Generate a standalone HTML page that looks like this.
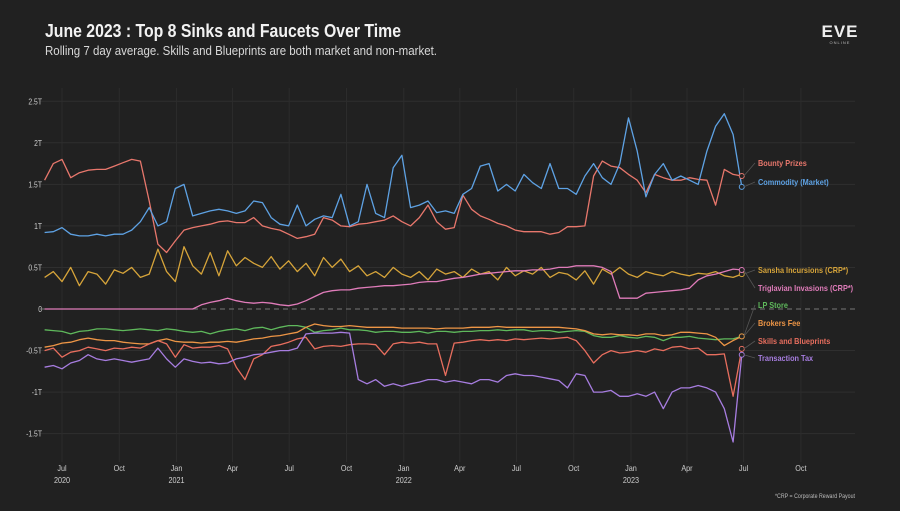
<!DOCTYPE html>
<html><head><meta charset="utf-8"><style>
html,body{margin:0;padding:0;background:#212121;}
body{width:900px;height:506px;overflow:hidden;font-family:"Liberation Sans Narrow","Liberation Sans",sans-serif;color:#eee;}
.t{font-family:"Liberation Sans Narrow","Liberation Sans",sans-serif;}
</style></head><body>
<svg id="chart" width="900" height="506" xmlns="http://www.w3.org/2000/svg">
<rect width="900" height="506" fill="#212121"/>
<text x="45" y="37" fill="#f2f2f2" font-size="18" font-weight="bold" class="t" textLength="356" lengthAdjust="spacingAndGlyphs">June 2023 : Top 8 Sinks and Faucets Over Time</text>
<text x="45" y="55" fill="#d8d8d8" font-size="12.5" class="t" textLength="392" lengthAdjust="spacingAndGlyphs">Rolling 7 day average. Skills and Blueprints are both market and non-market.</text>
<g>
<text x="840" y="37" fill="#eee" font-size="17" font-weight="bold" text-anchor="middle" class="t" letter-spacing="1">EVE</text>
<text x="840" y="44" fill="#bbb" font-size="4" text-anchor="middle" class="t" letter-spacing="1">ONLINE</text>
</g>
<g id="grid"></g><g id="series"></g><g id="legend"></g>
<text x="855" y="498" fill="#bbb" font-size="6" text-anchor="end" class="t" textLength="80" lengthAdjust="spacingAndGlyphs">*CRP = Corporate Reward Payout</text>
</svg>
<script>
// day offsets from 2020-07-01, step 14 days
const days = Array.from({length:81},(_,i)=>-28+14*i);
const yTicks = [2.5,2,1.5,1,0.5,0,-0.5,-1,-1.5];
const yTickLabels = ["2.5T","2T","1.5T","1T","0.5T","0","-0.5T","-1T","-1.5T"];
const xTickDays = [0,92,184,274,365,457,549,639,730,822,914,1004,1095,1187];
const xTickLabels = ["Jul","Oct","Jan","Apr","Jul","Oct","Jan","Apr","Jul","Oct","Jan","Apr","Jul","Oct"];
const xTickYears = ["2020","","2021","","","","2022","","","","2023","","",""];
const bounty = [1.55,1.75,1.8,1.58,1.64,1.67,1.68,1.68,1.72,1.76,1.8,1.78,1.3,0.78,0.68,0.82,0.95,0.98,1.0,1.02,1.05,1.06,1.04,1.04,1.1,1.0,0.97,0.95,0.9,0.85,0.87,0.9,1.1,1.07,1.0,0.99,1.02,1.03,1.05,1.07,1.12,1.05,1.0,1.1,1.25,1.05,0.96,0.98,1.37,1.2,1.12,1.08,1.03,1.0,0.95,0.93,0.93,0.93,0.9,0.92,0.99,0.99,1.0,1.6,1.78,1.72,1.7,1.62,1.55,1.4,1.62,1.58,1.55,1.55,1.58,1.56,1.55,1.25,1.68,1.62,1.6];
const commodity = [0.92,0.93,0.98,0.9,0.88,0.88,0.9,0.88,0.9,0.9,0.95,1.05,1.22,1.0,1.05,1.45,1.5,1.12,1.15,1.18,1.2,1.18,1.15,1.18,1.3,1.28,1.1,1.02,1.0,1.25,1.0,1.08,1.12,1.1,1.38,1.0,1.05,1.5,1.15,1.1,1.7,1.85,1.22,1.25,1.3,1.16,1.18,1.15,1.38,1.45,1.72,1.75,1.42,1.5,1.42,1.62,1.52,1.45,1.75,1.45,1.45,1.38,1.6,1.75,1.58,1.5,1.75,2.3,1.9,1.35,1.62,1.75,1.55,1.6,1.55,1.5,1.9,2.2,2.35,2.1,1.47];
const sansha = [0.38,0.45,0.33,0.5,0.28,0.45,0.42,0.3,0.47,0.43,0.5,0.38,0.42,0.72,0.45,0.33,0.75,0.52,0.42,0.68,0.4,0.7,0.52,0.62,0.55,0.5,0.63,0.48,0.58,0.45,0.55,0.4,0.62,0.5,0.6,0.45,0.52,0.4,0.45,0.38,0.5,0.42,0.38,0.45,0.35,0.48,0.42,0.45,0.38,0.48,0.42,0.45,0.35,0.5,0.4,0.46,0.42,0.5,0.38,0.44,0.42,0.35,0.46,0.3,0.48,0.42,0.5,0.42,0.38,0.45,0.42,0.4,0.45,0.42,0.4,0.43,0.42,0.45,0.4,0.38,0.42];
const triglavian = [0,0,0,0,0,0,0,0,0,0,0,0,0,0,0,0,0,0,0.05,0.08,0.1,0.13,0.1,0.08,0.07,0.08,0.07,0.05,0.04,0.06,0.1,0.15,0.2,0.22,0.23,0.23,0.25,0.26,0.27,0.28,0.28,0.29,0.3,0.32,0.33,0.33,0.35,0.37,0.38,0.4,0.42,0.43,0.44,0.45,0.46,0.46,0.47,0.47,0.48,0.5,0.5,0.52,0.52,0.52,0.5,0.45,0.13,0.13,0.13,0.19,0.2,0.21,0.22,0.23,0.25,0.35,0.4,0.42,0.45,0.48,0.47];
const lpStore = [-0.25,-0.26,-0.27,-0.3,-0.27,-0.26,-0.24,-0.24,-0.25,-0.26,-0.25,-0.24,-0.25,-0.26,-0.24,-0.25,-0.27,-0.28,-0.27,-0.3,-0.27,-0.25,-0.24,-0.26,-0.23,-0.22,-0.25,-0.22,-0.2,-0.2,-0.22,-0.28,-0.26,-0.25,-0.23,-0.25,-0.25,-0.26,-0.28,-0.27,-0.27,-0.28,-0.28,-0.27,-0.29,-0.27,-0.27,-0.28,-0.27,-0.27,-0.26,-0.26,-0.25,-0.26,-0.25,-0.25,-0.27,-0.26,-0.26,-0.28,-0.27,-0.26,-0.27,-0.32,-0.34,-0.34,-0.32,-0.34,-0.35,-0.33,-0.34,-0.38,-0.34,-0.34,-0.33,-0.35,-0.36,-0.37,-0.36,-0.36,-0.33];
const brokers = [-0.46,-0.44,-0.41,-0.4,-0.37,-0.35,-0.37,-0.38,-0.38,-0.4,-0.41,-0.42,-0.42,-0.38,-0.36,-0.39,-0.4,-0.4,-0.41,-0.4,-0.4,-0.39,-0.4,-0.38,-0.36,-0.35,-0.33,-0.32,-0.3,-0.28,-0.22,-0.18,-0.2,-0.21,-0.21,-0.2,-0.21,-0.22,-0.22,-0.22,-0.22,-0.23,-0.23,-0.23,-0.23,-0.24,-0.23,-0.23,-0.23,-0.22,-0.22,-0.22,-0.21,-0.22,-0.22,-0.22,-0.22,-0.22,-0.22,-0.22,-0.23,-0.24,-0.26,-0.3,-0.31,-0.3,-0.31,-0.31,-0.32,-0.3,-0.3,-0.32,-0.31,-0.28,-0.28,-0.29,-0.3,-0.34,-0.44,-0.38,-0.33];
const skills = [-0.5,-0.47,-0.58,-0.52,-0.5,-0.46,-0.48,-0.5,-0.47,-0.48,-0.46,-0.47,-0.42,-0.38,-0.42,-0.58,-0.43,-0.47,-0.46,-0.46,-0.44,-0.48,-0.7,-0.85,-0.6,-0.55,-0.45,-0.43,-0.4,-0.36,-0.34,-0.48,-0.45,-0.44,-0.45,-0.43,-0.42,-0.42,-0.43,-0.55,-0.42,-0.4,-0.41,-0.4,-0.42,-0.42,-0.8,-0.41,-0.4,-0.38,-0.37,-0.38,-0.37,-0.38,-0.36,-0.37,-0.36,-0.35,-0.36,-0.35,-0.34,-0.38,-0.5,-0.65,-0.55,-0.5,-0.53,-0.52,-0.5,-0.52,-0.48,-0.5,-0.46,-0.45,-0.48,-0.47,-0.55,-0.55,-0.54,-1.05,-0.48];
const txTax = [-0.7,-0.68,-0.72,-0.65,-0.62,-0.55,-0.6,-0.62,-0.6,-0.62,-0.64,-0.62,-0.6,-0.47,-0.6,-0.7,-0.6,-0.63,-0.65,-0.64,-0.66,-0.65,-0.6,-0.58,-0.55,-0.54,-0.52,-0.5,-0.5,-0.47,-0.3,-0.29,-0.29,-0.29,-0.28,-0.29,-0.85,-0.9,-0.85,-0.93,-0.9,-0.93,-0.9,-0.88,-0.85,-0.85,-0.88,-0.86,-0.88,-0.9,-0.85,-0.85,-0.88,-0.8,-0.78,-0.8,-0.8,-0.82,-0.84,-0.86,-0.95,-0.78,-0.8,-1.0,-1.0,-0.98,-1.05,-1.05,-1.02,-1.05,-1.0,-1.2,-1.0,-0.95,-0.95,-0.92,-0.95,-1.0,-1.2,-1.6,-0.55];
const seriesNames = ["Bounty Prizes","Commodity (Market)","Sansha Incursions (CRP*)","Triglavian Invasions (CRP*)","LP Store","Brokers Fee","Skills and Blueprints","Transaction Tax"];
const seriesData = [bounty,commodity,sansha,triglavian,lpStore,brokers,skills,txTax];
const seriesColors = ["#e8776c","#5ea2e4","#d6a43a","#e07cba","#5fb95c","#ee9646","#e86e5e","#a77de0"];
const labelY = [166,185,273,291,308,326,344,361];

const NS="http://www.w3.org/2000/svg";
const X0=40,X1=855;
function xs(d){return 62+d*0.6225;}
function ys(v){return 309-v*83.1;}
function mk(tag,attrs,parent){const e=document.createElementNS(NS,tag);for(const k in attrs)e.setAttribute(k,attrs[k]);parent.appendChild(e);return e;}
function condense(t,f){const w=t.getComputedTextLength();t.setAttribute('textLength',(w*f).toFixed(1));t.setAttribute('lengthAdjust','spacingAndGlyphs');}
const grid=document.getElementById('grid');
yTicks.forEach((v,i)=>{
  if(v!==0){const l=mk('line',{x1:X0,x2:X1,y1:ys(v),y2:ys(v),stroke:'#2f2f2f','stroke-width':1},grid);
  
  }
  const t=mk('text',{x:42,y:ys(v)+3,fill:'#cfcfcf','font-size':8,'text-anchor':'end',class:'t'},grid);
  t.textContent=yTickLabels[i];
  
  
  condense(t,0.85);
});
xTickDays.forEach((d,i)=>{
  const l=mk('line',{x1:xs(d),x2:xs(d),y1:88,y2:462,stroke:'#2c2c2c','stroke-width':1},grid);
  
  
  const t=mk('text',{x:xs(d),y:471,fill:'#cfcfcf','font-size':8.5,'text-anchor':'middle',class:'t'},grid);
  t.textContent=xTickLabels[i];
  
  
  condense(t,0.85);
  if(xTickYears[i]){const y=mk('text',{x:xs(d),y:483,fill:'#cfcfcf','font-size':8.5,'text-anchor':'middle',class:'t'},grid);
  y.textContent=xTickYears[i];
  
  
  condense(y,0.85);}
});
const zl=mk('line',{x1:X0,x2:X1,y1:ys(0),y2:ys(0),stroke:'#777','stroke-width':1,'stroke-dasharray':'5,4'},grid);



const sg=document.getElementById('series'),lg=document.getElementById('legend');
seriesData.forEach((arr,s)=>{
  const pts=arr.map((v,i)=>xs(days[i]).toFixed(1)+','+ys(v).toFixed(1)).join(' ');
  const p=mk('polyline',{points:pts,fill:'none',stroke:seriesColors[s],'stroke-width':1.3,'stroke-linejoin':'round'},sg);
  
  
  const lx=xs(days[days.length-1]),ly=ys(arr[arr.length-1]);
  const c=mk('circle',{cx:lx,cy:ly,r:2.5,fill:'#212121',stroke:seriesColors[s],'stroke-width':1},lg);
  
  
  const cl=mk('line',{x1:lx+2,y1:ly,x2:755,y2:labelY[s]-3,stroke:'#555','stroke-width':0.8},lg);
  
  
  const t=mk('text',{x:758,y:labelY[s],fill:seriesColors[s],'font-size':8.5,'font-weight':'bold',class:'t'},lg);
  t.textContent=seriesNames[s];
  
  
  condense(t,0.86);
});
</script>
</body></html>
